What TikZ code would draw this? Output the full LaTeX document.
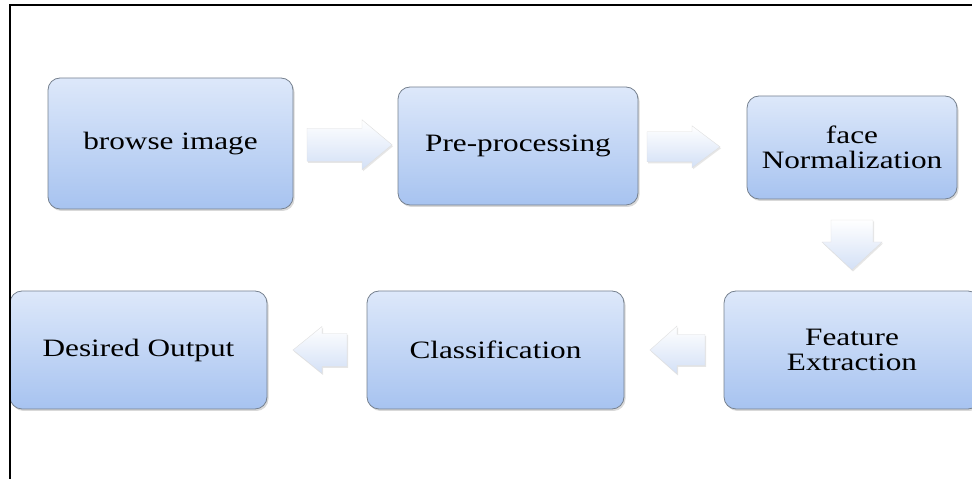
\documentclass[tikz,border=0pt]{standalone}
\usepackage{fontspec}
\setmainfont{Liberation Serif}[FakeStretch=1.25]
\usepackage{tikz}
\usetikzlibrary{arrows,positioning}
\usetikzlibrary{shadows}
\definecolor{boxtop}{HTML}{DDE8FA}
\definecolor{boxbot}{HTML}{A7C3F0}
\definecolor{boxline}{HTML}{76818F}
\definecolor{flowbot}{HTML}{D3E0F6}
\tikzset{
  flow/.style={draw=gray!25,top color=white,bottom color=flowbot,
    drop shadow={shadow xshift=1pt,shadow yshift=-1.5pt,opacity=0.2}},
  % length / shaft / head width / head length
  pics/flowarrow/.style n args={4}{code={
    \path[flow] (-#1/2,-#2/2) -- (#1/2-#4,-#2/2) -- (#1/2-#4,-#3/2) -- (#1/2,0)
      -- (#1/2-#4,#3/2) -- (#1/2-#4,#2/2) -- (-#1/2,#2/2) -- cycle;
  }},
}

\begin{document}
\begin{tikzpicture}[x=1pt,y=1pt,
block/.style={rectangle,draw=boxline,line width=0.8pt,rounded corners=12pt,
top color=boxtop,bottom color=boxbot,
minimum width=257,minimum height=118,inner sep=0pt,
align=center,font=\fontsize{25}{25}\selectfont,anchor=center,
drop shadow={shadow xshift=1.5pt,shadow yshift=-2pt,opacity=0.3}},
]
\useasboundingbox (0,0) rectangle (972,479);
\node (browse) [block,xshift=170.5,yshift=335.5,minimum width=245,minimum height=131] {browse image};
\node (pre) [block,xshift=518,yshift=333,minimum width=240] {Pre-processing};
\node (face) [block,xshift=852,yshift=331.5,minimum width=210,minimum height=103] {face\\Normalization};
\node (feat) [block,xshift=852,yshift=129,minimum width=256] {Feature\\Extraction};
\node (class) [block,xshift=495.5,yshift=129] {Classification};
\node (out) [block,xshift=138.5,yshift=129] {Desired Output};
% block arrows
\path (browse) -- (pre) coordinate[midway] (m1);
\path (pre) -- (face) coordinate[midway] (m2);
\path (face) -- (feat) coordinate[midway] (m3);
\path (feat) -- (class) coordinate[midway] (m4);
\path (class) -- (out) coordinate[midway] (m5);
\pic at ([xshift=4]m1) {flowarrow={85}{33}{50}{30}};
\pic at ([xshift=-9]m2) {flowarrow={73}{30}{42}{28}};
\pic[rotate=-90] at (m3) {flowarrow={50}{42}{60}{28}};
\pic[rotate=180] at ([xshift=3.5]m4) {flowarrow={55}{31}{48}{27}};
\pic[rotate=180] at ([xshift=3]m5) {flowarrow={54}{33}{47}{29}};
% frame
\draw [line width=2] (10,0) -- (10,474) -- (972,474);
\end{tikzpicture}
\end{document}
